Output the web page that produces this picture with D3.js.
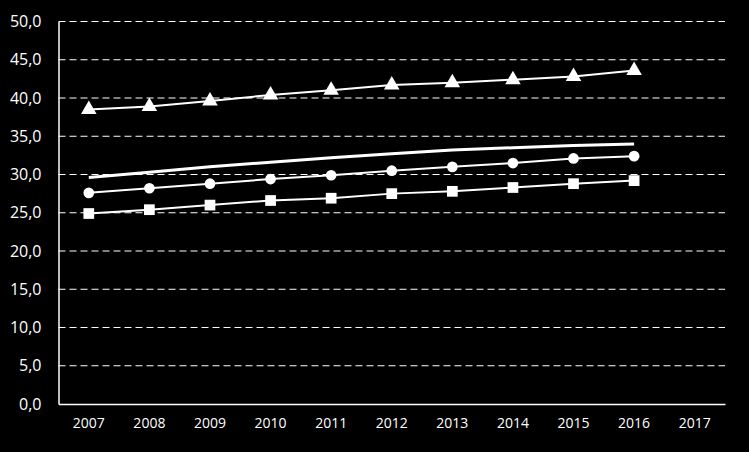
<!DOCTYPE html>
<html><head><meta charset="utf-8">
<script src="https://cdn.jsdelivr.net/npm/d3@7"></script>
<style>
html,body{margin:0;padding:0;background:#000;}
svg{display:block;}
text{font-family:"Open Sans",sans-serif;fill:#fff;}
</style></head>
<body>
<svg id="c" width="749" height="452"></svg>
<script>
const years = ["2007","2008","2009","2010","2011","2012","2013","2014","2015","2016","2017"];
const yTicks = [0,5,10,15,20,25,30,35,40,45,50];
const triangleSeries = [38.5,38.9,39.6,40.4,41.0,41.7,42.0,42.4,42.8,43.6];
const plainSeries = [29.6,30.3,31.0,31.6,32.2,32.7,33.2,33.5,33.8,34.0];
const circleSeries = [27.6,28.2,28.8,29.4,29.9,30.5,31.0,31.5,32.1,32.4];
const squareSeries = [24.9,25.4,26.0,26.6,26.9,27.5,27.8,28.3,28.8,29.2];

const svg = d3.select("#c");
const L = 58.5, R = 725, T = 21.5, B = 404;
const x = d3.scaleBand().domain(years).range([L, R]);
const y = d3.scaleLinear().domain([0, 50]).range([B, T]);
const cx = d => x(d) + x.bandwidth()/2;

// gridlines
svg.append("g").selectAll("line").data(yTicks.filter(v => v > 0)).join("line")
  .attr("x1", L).attr("x2", R)
  .attr("y1", d => y(d)).attr("y2", d => y(d))
  .attr("stroke", "#fff").attr("stroke-width", 1.2).attr("stroke-dasharray", "7,4");

// axes
const yAxis = d3.axisLeft(y).tickValues(yTicks).tickSize(0).tickPadding(17)
  .tickFormat(d => d3.format(".1f")(d).replace(".", ","));
const gy = svg.append("g").attr("transform", `translate(${L},0)`).call(yAxis);
gy.select(".domain").attr("stroke", "#fff").attr("stroke-width", 1.5);
gy.selectAll("text").attr("font-size", 16).attr("fill", "#fff").attr("font-family", "Open Sans, sans-serif");

const xAxis = d3.axisBottom(x).tickSize(0).tickPadding(14);
const gx = svg.append("g").attr("transform", `translate(0,${B})`).call(xAxis);
gx.select(".domain").attr("stroke", "#fff").attr("stroke-width", 1.5);
gx.selectAll("text").attr("font-size", 14).attr("fill", "#fff").attr("font-family", "Open Sans, sans-serif");

const line = d3.line().x((d,i) => cx(years[i])).y(d => y(d));

function series(data, width, shape, size) {
  svg.append("path").datum(data).attr("d", line)
    .attr("fill", "none").attr("stroke", "#fff").attr("stroke-width", width);
  if (shape) {
    svg.append("g").selectAll("path").data(data).join("path")
      .attr("transform", (d,i) => `translate(${cx(years[i])},${y(d)})`)
      .attr("d", d3.symbol().type(shape).size(size))
      .attr("fill", "#fff");
  }
}
series(triangleSeries, 2, d3.symbolTriangle, 105);
series(plainSeries, 3, null);
series(circleSeries, 2, d3.symbolCircle, 90);
series(squareSeries, 2, d3.symbolSquare, 115);
</script>
</body></html>
